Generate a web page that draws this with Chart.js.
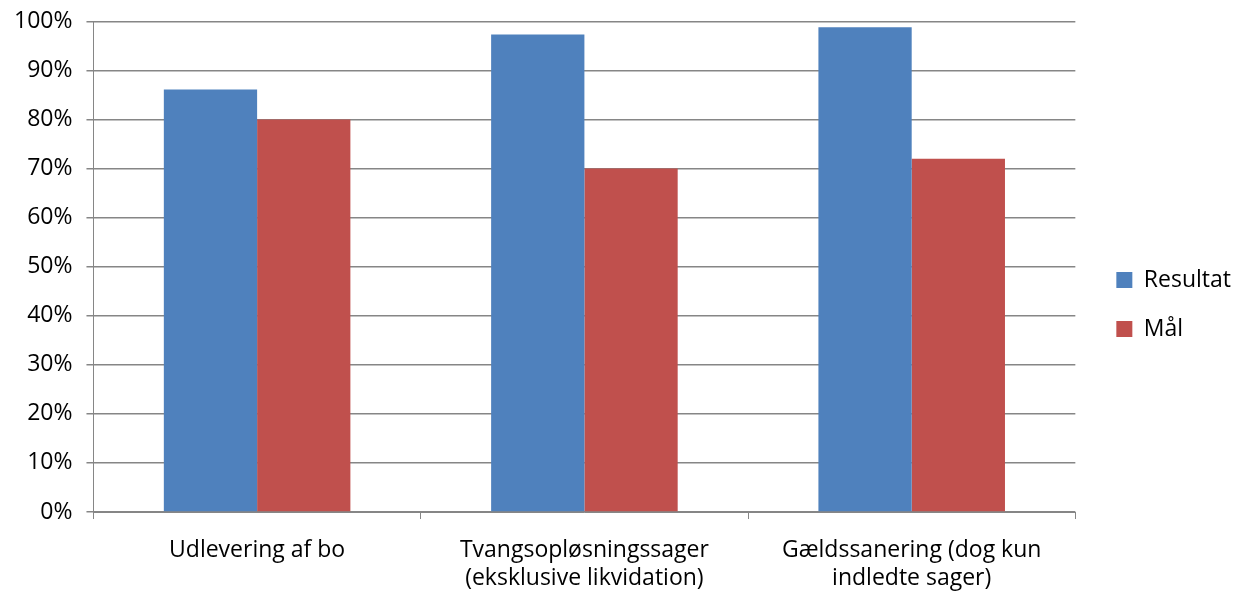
<!DOCTYPE html>
<html lang="da">
<head>
    <meta charset="UTF-8">
    <title>Resultat og mål</title>
    <script src="https://cdn.jsdelivr.net/npm/chart.js"></script>
    <style>
        html, body { margin: 0; padding: 0; background: #fff; }
        #wrap { width: 1234px; height: 593px; }
    </style>
</head>
<body>
    <div id="wrap"><canvas id="chart"></canvas></div>
    <script>
        const categories = [
            ['Udlevering af bo'],
            ['Tvangsopløsningssager', '(eksklusive likvidation)'],
            ['Gældssanering (dog kun', 'indledte sager)']
        ];
        const resultat = [86.1, 97.3, 98.8];
        const maal = [80, 70, 72];
        const seriesNames = ['Resultat', 'Mål'];

        const font = "'Open Sans', Lato, sans-serif";
        const gridColor = '#868686';

        // push the legend a bit further away from the plot, like the original
        const legendShift = {
            id: 'legendShift',
            afterLayout(chart) {
                const lg = chart.legend;
                lg.left += 15;
                lg.right += 15;
            }
        };

        new Chart(document.getElementById('chart'), {
            type: 'bar',
            data: {
                labels: categories,
                datasets: [
                    { label: seriesNames[0], data: resultat, backgroundColor: '#4F81BD' },
                    { label: seriesNames[1], data: maal, backgroundColor: '#C0504D' }
                ]
            },
            plugins: [legendShift],
            options: {
                responsive: true,
                maintainAspectRatio: false,
                animation: false,
                categoryPercentage: 0.57,
                barPercentage: 1.0,
                layout: { padding: { top: 0, right: 8, left: 0, bottom: -16 } },
                plugins: {
                    legend: {
                        position: 'right',
                        labels: {
                            boxWidth: 16,
                            boxHeight: 16,
                            padding: 26,
                            color: '#000',
                            font: { family: font, size: 23 }
                        }
                    },
                    tooltip: { enabled: false }
                },
                scales: {
                    x: {
                        grid: {
                            offset: true,
                            drawOnChartArea: false,
                            color: gridColor,
                            tickLength: 7
                        },
                        border: { color: gridColor },
                        ticks: {
                            color: '#000',
                            padding: 17,
                            maxRotation: 0,
                            font: { family: font, size: 23, lineHeight: 1.217 }
                        }
                    },
                    y: {
                        min: 0,
                        max: 100,
                        grid: { color: gridColor, lineWidth: 1.5, tickLength: 7 },
                        border: { color: gridColor },
                        ticks: {
                            stepSize: 10,
                            color: '#000',
                            padding: 14,
                            font: { family: font, size: 23, lineHeight: 0.64 },
                            callback: v => v + '%'
                        }
                    }
                }
            }
        });
    </script>
</body>
</html>
